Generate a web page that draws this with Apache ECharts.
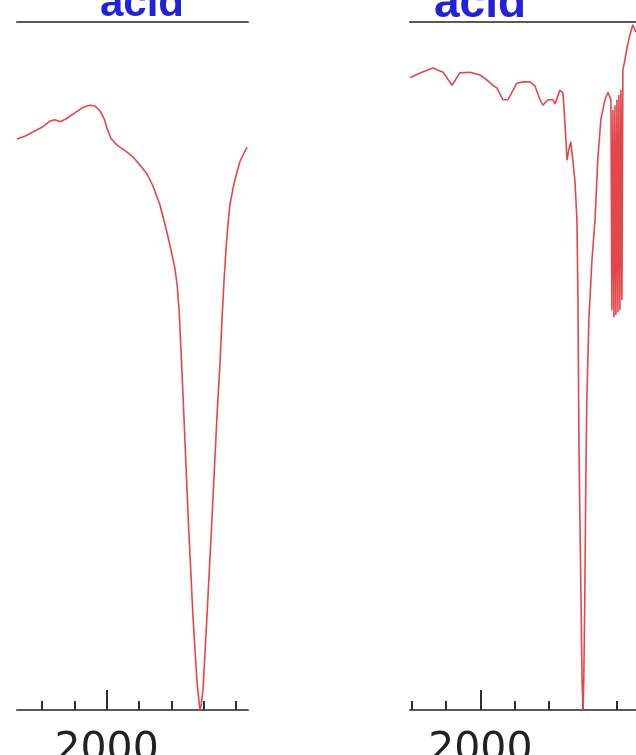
<!DOCTYPE html>
<html>
<head>
<meta charset="utf-8">
<style>
  html, body { margin: 0; padding: 0; background: #ffffff; }
  #chart { width: 636px; height: 755px; }
</style>
<script src="https://cdn.jsdelivr.net/npm/echarts@6/dist/echarts.min.js"></script>
</head>
<body>
<div id="chart"></div>
<script>
// IR spectra, transmittance (%) against wavenumber (cm-1), two panels.
const panelTitles = ['acid', 'acid'];

// Tick positions (cm-1) and the labelled major tick
const minorTicks = [2200, 2100, 2000, 1900, 1800, 1700, 1600];
const majorTicks = [2000];

// Visible wavenumber window of each panel
const leftRange = [1563, 2277];
const rightRange = [1544, 2206];

// Left panel spectrum
const leftWavenumbers = [
  2277, 2253, 2228, 2200, 2175, 2160, 2144, 2126, 2098, 2073, 2052, 2036,
  2021, 2008, 1999, 1987, 1968, 1943, 1919, 1897, 1875, 1857, 1835, 1817,
  1801, 1789, 1782, 1776, 1770, 1761, 1748, 1733, 1721, 1714, 1711, 1708,
  1702, 1690, 1674, 1659, 1649, 1643, 1637, 1631, 1625, 1619, 1609, 1597,
  1588, 1575, 1566
];
const leftTransmittance = [
  83.0, 83.4, 84.0, 84.7, 85.6, 85.8, 85.5, 85.9, 86.8, 87.6, 87.9, 87.8,
  87.1, 86.0, 84.6, 83.1, 82.1, 81.3, 80.4, 79.2, 77.9, 76.2, 73.4, 70.1,
  66.9, 64.2, 61.8, 58.1, 52.3, 42.6, 28.1, 13.5, 4.4, 1.0, 0.0, 0.7,
  2.9, 13.5, 28.1, 42.6, 50.9, 57.1, 62.5, 66.9, 70.5, 73.4, 75.9, 78.2,
  79.7, 81.0, 81.8
];

// Right panel spectrum
const rightWavenumbers = [
  2206, 2177, 2139, 2109, 2083, 2060, 2030, 2001, 1981, 1963, 1951, 1934,
  1919, 1904, 1893, 1875, 1855, 1840, 1825, 1817, 1802, 1787, 1781, 1767,
  1758, 1752, 1746, 1741, 1735, 1729, 1723, 1717, 1714, 1711, 1705, 1702,
  1699, 1697, 1694, 1691, 1688, 1682, 1673, 1664, 1656, 1647, 1635, 1626,
  1617.5, 1614.6, 1611.6, 1608.7, 1605.8, 1602.9, 1599.9, 1597.0, 1594.1,
  1591.1, 1588.2, 1585.3, 1582.4, 1576.5, 1570.6, 1561.9, 1553.1, 1544.3
];
const rightTransmittance = [
  91.9, 92.6, 93.3, 92.7, 90.8, 92.6, 92.7, 92.3, 91.6, 90.8, 90.4, 88.7,
  88.7, 90.1, 91.1, 91.3, 91.3, 90.7, 88.7, 87.9, 88.7, 88.7, 88.1, 90.1,
  89.7, 85.3, 79.9, 81.4, 82.6, 79.9, 77.0, 71.2, 59.6, 37.8, 16.0, 4.4,
  0.0, 4.4, 16.0, 33.4, 45.1, 56.7, 65.4, 71.2, 79.9, 85.8, 88.7, 89.8,
  88.7, 58.1, 87.2, 57.1, 87.9, 57.4, 88.7, 57.8, 89.4,
  58.1, 90.1, 59.6, 93.0, 94.5, 96.2, 98.1, 99.6, 98.5
];

const pairs = (xs, ys) => xs.map((x, i) => [x, ys[i]]);

const lineColor = '#e4474a';
const axisColor = '#5a5a5a';
const tickColor = '#2e2e2e';

function bottomAxis(gridIndex, range) {
  return {
    type: 'value', gridIndex, position: 'bottom', inverse: true,
    min: range[0], max: range[1],
    axisLine: { show: true, lineStyle: { color: axisColor, width: 2 } },
    axisTick: { show: true, inside: true, length: 9, customValues: minorTicks,
                lineStyle: { color: tickColor, width: 2 } },
    axisLabel: { show: true, customValues: majorTicks, margin: 20,
                 formatter: (v) => String(v),
                 fontFamily: 'DejaVu Sans', fontSize: 41, color: '#222' },
    splitLine: { show: false }
  };
}
function topAxis(gridIndex, range) {
  return {
    type: 'value', gridIndex, position: 'top', inverse: true,
    min: range[0], max: range[1],
    axisLine: { show: true, lineStyle: { color: axisColor, width: 2 } },
    axisTick: { show: false }, axisLabel: { show: false },
    splitLine: { show: false }
  };
}
function majorAxis(gridIndex, range) {
  return {
    type: 'value', gridIndex, position: 'bottom', inverse: true,
    min: range[0], max: range[1],
    axisLine: { show: false },
    axisTick: { show: true, inside: true, length: 20, customValues: majorTicks,
                lineStyle: { color: tickColor, width: 2 } },
    axisLabel: { show: false },
    splitLine: { show: false }
  };
}
function hiddenY(gridIndex) {
  return { type: 'value', gridIndex, min: 0, max: 100, show: false, splitLine: { show: false } };
}
function panelGrid(left, width, right) {
  const g = { left, top: 22, height: 688, outerBoundsMode: 'none', containLabel: false };
  if (width != null) g.width = width; else g.right = right;
  return g;
}

const chart = echarts.init(document.getElementById('chart'), null, { renderer: 'canvas' });
chart.setOption({
  animation: false,
  backgroundColor: '#ffffff',
  graphic: [
    { type: 'text', x: 142, y: 4, style: { text: panelTitles[0], fill: '#2323d6',
      font: 'bold 42px "Liberation Sans"', align: 'center', verticalAlign: 'middle' } },
    { type: 'text', x: 480, y: 4, style: { text: panelTitles[1], fill: '#2323d6',
      font: 'bold 46px "Liberation Sans"', align: 'center', verticalAlign: 'middle' } }
  ],
  grid: [
    panelGrid(17, 231), panelGrid(17, 231),
    panelGrid(410, null, 0), panelGrid(410, null, 0)
  ],
  xAxis: [
    bottomAxis(0, leftRange), topAxis(0, leftRange), majorAxis(1, leftRange),
    bottomAxis(2, rightRange), topAxis(2, rightRange), majorAxis(3, rightRange)
  ],
  yAxis: [hiddenY(0), hiddenY(1), hiddenY(2), hiddenY(3)],
  series: [
    { type: 'line', xAxisIndex: 0, yAxisIndex: 0, showSymbol: false, symbol: 'none',
      clip: false, data: pairs(leftWavenumbers, leftTransmittance),
      lineStyle: { color: lineColor, width: 1.6 } },
    { type: 'line', xAxisIndex: 3, yAxisIndex: 2, showSymbol: false, symbol: 'none',
      clip: false, data: pairs(rightWavenumbers, rightTransmittance),
      lineStyle: { color: lineColor, width: 1.6 } }
  ]
});
</script>
</body>
</html>
